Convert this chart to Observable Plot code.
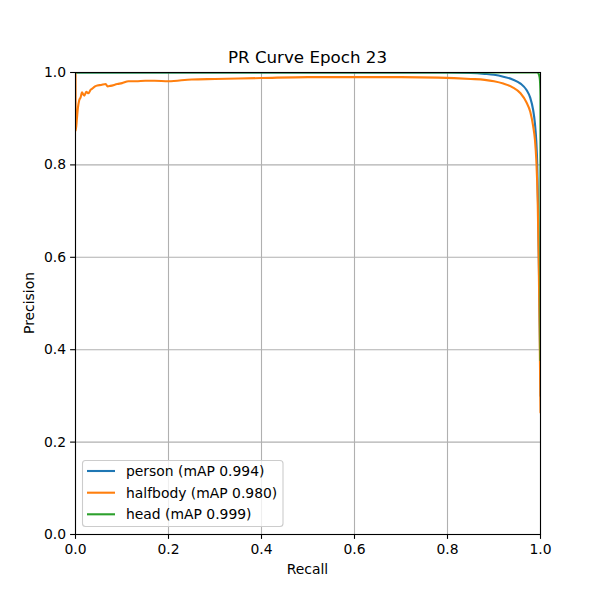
<!DOCTYPE html>
<html>
<head>
<meta charset="utf-8">
<script src="https://cdn.jsdelivr.net/npm/d3@7"></script>
<script src="https://cdn.jsdelivr.net/npm/@observablehq/plot@0.6"></script>
<style>
  html, body { margin: 0; padding: 0; background: white; }
  #chart svg { display: block; }
</style>
</head>
<body>
<div id="chart"></div>
<script>
// ---- Data ----
const title = "PR Curve Epoch 23";
const xLabel = "Recall";
const yLabel = "Precision";
const xTicks = [0, 0.2, 0.4, 0.6, 0.8, 1.0];
const yTicks = [0, 0.2, 0.4, 0.6, 0.8, 1.0];

const seriesNames = ["person", "halfbody", "head"];
const seriesLabels = ["person (mAP 0.994)", "halfbody (mAP 0.980)", "head (mAP 0.999)"];
const seriesColors = ["#1f77b4", "#ff7f0e", "#2ca02c"];

const personRecall    = [0, 0.5, 0.8, 0.85, 0.88, 0.9, 0.92, 0.94, 0.957, 0.97, 0.978, 0.984, 0.988, 0.991, 0.993, 0.995, 0.997, 0.999, 1.0];
const personPrecision = [1, 1, 1, 0.999, 0.997, 0.995, 0.991, 0.985, 0.976, 0.962, 0.945, 0.92, 0.89, 0.85, 0.8, 0.7, 0.55, 0.4, 0.3];

const halfbodyRecall = [0, 0.0005, 0.003, 0.005, 0.008, 0.011, 0.014, 0.017, 0.019, 0.023, 0.028, 0.032, 0.036, 0.042, 0.047, 0.055, 0.065, 0.069, 0.075, 0.09, 0.1, 0.114, 0.13, 0.15, 0.17, 0.2, 0.25, 0.3, 0.35, 0.4, 0.5, 0.6, 0.7, 0.78, 0.85, 0.88, 0.9, 0.92, 0.94, 0.957, 0.97, 0.978, 0.984, 0.988, 0.991, 0.994, 0.996, 0.998, 1.0];
const halfbodyPrecision = [1, 0.874, 0.9, 0.922, 0.94, 0.946, 0.957, 0.952, 0.95, 0.958, 0.955, 0.962, 0.965, 0.97, 0.972, 0.973, 0.975, 0.97, 0.971, 0.975, 0.977, 0.981, 0.981, 0.982, 0.982, 0.981, 0.985, 0.986, 0.987, 0.988, 0.99, 0.99, 0.99, 0.989, 0.986, 0.984, 0.981, 0.976, 0.968, 0.955, 0.935, 0.915, 0.885, 0.855, 0.81, 0.72, 0.6, 0.45, 0.264];

const headRecall    = [0, 0.5, 0.993, 0.996, 0.998, 0.999, 1.0, 1.0];
const headPrecision = [1, 1, 1, 0.997, 0.99, 0.98, 0.95, 0.377];

const rows = (name, r, p) => r.map((v, i) => ({series: name, recall: v, precision: p[i]}));
const person = rows("person", personRecall, personPrecision);
const halfbody = rows("halfbody", halfbodyRecall, halfbodyPrecision);
const head = rows("head", headRecall, headPrecision);

const W = 600, H = 600;
const mL = 75, mR = 60, mT = 72, mB = 66;
const font = "'DejaVu Sans', sans-serif";
const fmt = d3.format(".1f");

const lineOpts = (color) => ({x: "recall", y: "precision", stroke: color, strokeWidth: 2.1, strokeLinejoin: "round", curve: "monotone-x", clip: true});

const chart = Plot.plot({
  width: W, height: H,
  marginLeft: mL, marginRight: mR, marginTop: mT, marginBottom: mB,
  style: {fontFamily: font, fontSize: "13.9px", background: "white", color: "black"},
  x: {domain: [0, 1], label: null},
  y: {domain: [0, 1], label: null},
  marks: [
    Plot.gridX(xTicks, {stroke: "#b0b0b0", strokeOpacity: 1, strokeWidth: 1.1}),
    Plot.gridY(yTicks, {stroke: "#b0b0b0", strokeOpacity: 1, strokeWidth: 1.1}),
    Plot.line(person, lineOpts(seriesColors[0])),
    Plot.line(halfbody, lineOpts(seriesColors[1])),
    Plot.line(head, lineOpts(seriesColors[2])),
    Plot.frame({stroke: "black", strokeWidth: 1.1}),
    Plot.axisX(xTicks, {tickSize: 4.9, tickPadding: 4.5, tickFormat: fmt, label: null, strokeWidth: 1.1}),
    Plot.axisY(yTicks, {tickSize: 4.9, tickPadding: 4.5, tickFormat: fmt, label: null, strokeWidth: 1.1})
  ]
});

document.getElementById("chart").appendChild(chart);

const svg = d3.select(chart);
// Title
svg.append("text")
  .attr("x", (mL + W - mR) / 2).attr("y", 63)
  .attr("text-anchor", "middle")
  .attr("font-family", font).attr("font-size", "16.7px").attr("fill", "black")
  .text(title);
// Axis labels
svg.append("text")
  .attr("x", (mL + W - mR) / 2).attr("y", 574)
  .attr("text-anchor", "middle")
  .attr("font-family", font).attr("font-size", "13.9px").attr("fill", "black")
  .text(xLabel);
svg.append("text")
  .attr("transform", `translate(34, ${(mT + H - mB) / 2}) rotate(-90)`)
  .attr("text-anchor", "middle")
  .attr("font-family", font).attr("font-size", "13.9px").attr("fill", "black")
  .text(yLabel);

// Legend
const lg = svg.append("g").attr("text-anchor", "start");
lg.append("rect")
  .attr("x", 82.5).attr("y", 460.5).attr("width", 200.5).attr("height", 66)
  .attr("rx", 3).attr("ry", 3)
  .attr("fill", "white").attr("fill-opacity", 0.8)
  .attr("stroke", "#cccccc").attr("stroke-width", 1.1);
const rowY = [471, 492.7, 514.3];
seriesLabels.forEach((lab, i) => {
  lg.append("line")
    .attr("x1", 87).attr("x2", 115).attr("y1", rowY[i]).attr("y2", rowY[i])
    .attr("stroke", seriesColors[i]).attr("stroke-width", 2.1);
  lg.append("text")
    .attr("x", 126).attr("y", rowY[i] + 5)
    .attr("text-anchor", "start")
    .attr("font-family", font).attr("font-size", "13.9px").attr("fill", "black")
    .text(lab);
});
</script>
</body>
</html>
